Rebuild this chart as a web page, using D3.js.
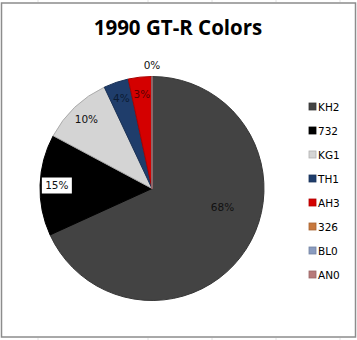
<!DOCTYPE html>
<html>
<head>
<meta charset="utf-8">
<script src="https://cdn.jsdelivr.net/npm/d3@7"></script>
<style>
  html, body { margin: 0; padding: 0; background: #fff; }
  svg { display: block; }
</style>
</head>
<body>
<svg id="chart" width="357" height="340"></svg>
<script>
// chart data
var codes = ["KH2", "732", "KG1", "TH1", "AH3", "326", "BL0", "AN0"];
var shares = [68.2, 14.6, 10.2, 3.6, 3.4, 0, 0, 0];
var colors = ["#434343", "#000000", "#d4d4d4", "#1f3d6b", "#d40000", "#c8783c", "#8a9cc0", "#b87a7a"];

var W = 357, H = 340;
var cx = 152, cy = 188.5, r = 112;

var svg = d3.select("#chart");

// faint sheet gridlines outside the chart box
[38, 148, 212, 276, 340].forEach(function(x) {
  svg.append("line").attr("x1", x).attr("x2", x).attr("y1", 0).attr("y2", 2)
    .attr("stroke", "#e2e2e2");
  svg.append("line").attr("x1", x).attr("x2", x).attr("y1", 338).attr("y2", 340)
    .attr("stroke", "#e2e2e2");
});

// chart frame
svg.append("rect")
  .attr("x", 1.5).attr("y", 3)
  .attr("width", 354).attr("height", 334)
  .attr("fill", "#fff")
  .attr("stroke", "#8c8c8c")
  .attr("stroke-width", 1.5);

svg.append("text")
  .attr("x", 178).attr("y", 35)
  .attr("text-anchor", "middle")
  .attr("font-family", "'Open Sans', sans-serif")
  .attr("font-weight", "bold")
  .attr("font-size", 20.5)
  .attr("fill", "#000")
  .text("1990 GT-R Colors");

var data = codes.map(function(c, i) { return { code: c, value: shares[i], color: colors[i] }; });

var pie = d3.pie().sort(null).value(function(d) { return d.value; });
var arc = d3.arc().innerRadius(0).outerRadius(r);
var arcs = pie(data);
var total = d3.sum(shares);

var g = svg.append("g").attr("transform", "translate(" + cx + "," + cy + ")");

g.selectAll("path.slice")
  .data(arcs)
  .enter().append("path")
    .attr("class", "slice")
    .attr("d", arc)
    .attr("fill", function(d) { return d.data.color; })
    .attr("stroke", function(d) { return d3.color(d.data.color).darker(0.6); })
    .attr("stroke-width", 1);

// percentage labels (excel "best fit" look)
var fmt = function(v) { return Math.round(v / total * 100) + "%"; };
var labelPos = function(d) {
  var span = d.endAngle - d.startAngle;
  var a = (d.startAngle + d.endAngle) / 2;
  var k;
  if (span === 0) k = 1.1;
  else if (span > Math.PI) { k = 0.65; a = d.startAngle + span * 0.426; }
  else k = 0.85;
  return [Math.sin(a) * r * k, -Math.cos(a) * r * k];
};

// only one label for the stacked zero slices
var seenZero = false;
var shown = arcs.filter(function(d) {
  if (d.value > 0) return true;
  if (seenZero) return false;
  seenZero = true;
  return true;
});

var labels = g.selectAll("g.lbl")
  .data(shown)
  .enter().append("g")
    .attr("class", "lbl")
    .attr("transform", function(d) { return "translate(" + labelPos(d) + ")"; });

labels.filter(function(d) { return d.data.code === "732"; })
  .append("rect")
    .attr("x", -15).attr("y", -8)
    .attr("width", 30).attr("height", 16)
    .attr("fill", "#fff");

labels.append("text")
  .attr("text-anchor", "middle")
  .attr("dy", "0.35em")
  .attr("font-family", "'DejaVu Sans', sans-serif")
  .attr("font-size", 10.5)
  .attr("fill", function(d) { return d.data.code === "AH3" ? "#5a0000" : (d.data.code === "TH1" ? "#0c1c33" : "#111"); })
  .text(function(d) { return fmt(d.data.value); });

// legend
var y = d3.scalePoint().domain(codes).range([107, 275]);
var leg = svg.selectAll("g.leg")
  .data(data)
  .enter().append("g")
    .attr("class", "leg")
    .attr("transform", function(d) { return "translate(309," + y(d.code) + ")"; });

leg.append("rect")
  .attr("x", 0).attr("y", -4)
  .attr("width", 7).attr("height", 7)
  .attr("fill", function(d) { return d.color; })
  .attr("stroke", function(d) { return d3.color(d.color).darker(0.5); })
  .attr("stroke-width", 0.8);

leg.append("text")
  .attr("x", 9).attr("dy", "0.35em")
  .attr("font-family", "'DejaVu Sans', sans-serif")
  .attr("font-size", 10.5)
  .attr("fill", "#000")
  .text(function(d) { return d.code; });
</script>
</body>
</html>
